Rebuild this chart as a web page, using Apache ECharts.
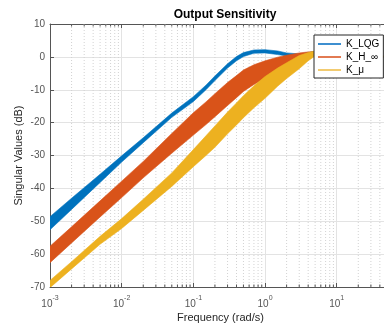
<!DOCTYPE html>
<html><head><meta charset="utf-8">
<script src="https://cdn.jsdelivr.net/npm/echarts@6/dist/echarts.min.js"></script>
<style>html,body{margin:0;padding:0;background:#fff}#c{width:384px;height:331px}</style>
</head><body><div id="c"></div>
<script>
// Frequencies (rad/s) at which the envelopes were read
const freqs     = [0.001,0.002,0.005,0.01,0.02,0.05,0.1,0.15,0.2,0.3,0.4,0.5,0.7,1,1.5,2,3,4,5,10,20,45.7];
// K_LQG singular-value band (dB)
const lqgUpper  = [-48.6,-43.0,-35.7,-30.1,-24.6,-17.1,-12.1,-8.6,-5.8,-2.1,0.1,1.3,2.1,2.2,1.8,1.2,0.9,1.3,1.7,1.2,0.4,0.1];
const lqgLower  = [-52.6,-46.4,-38.2,-32.0,-26.1,-18.4,-13.6,-10.0,-7.2,-3.4,-1.2,0.1,1.1,1.2,0.7,0.3,0.1,0.6,1.2,0.8,0.2,0.0];
// K_H_inf band (dB)
const hinfUpper = [-57.6,-51.7,-43.8,-37.8,-31.8,-23.3,-17.0,-13.7,-11.2,-7.8,-5.7,-4.0,-2.4,-1.2,-0.1,0.5,1.2,1.5,1.6,1.5,0.6,0.2];
const hinfLower = [-62.6,-56.6,-48.7,-42.8,-36.8,-29.3,-23.8,-20.6,-18.2,-14.8,-12.4,-10.5,-8.4,-6.5,-3.5,-2.0,-0.5,0.4,1.0,1.0,0.3,0.0];
// K_mu band (dB)
const muUpper   = [-68.0,-62.3,-54.6,-49.2,-43.3,-35.3,-28.2,-24.0,-21.0,-16.8,-14.0,-11.8,-8.8,-6.0,-3.4,-1.8,0.4,1.3,1.8,1.5,0.6,0.2];
const muLower   = [-70.2,-64.5,-57.0,-52.2,-46.7,-39.4,-33.4,-30.0,-27.5,-23.4,-20.7,-18.5,-15.5,-12.6,-8.9,-6.6,-3.6,-1.2,0.3,1.0,0.3,0.0];
// Axis
const xMin = 0.001, xMax = 45.7;
const yMin = -70, yMax = 10, yStep = 10;
const xTickExps = [-3,-2,-1,0,1];
const minorFreqs = [];
for (let k = -3; k <= 1; k++) for (let m = 2; m <= 9; m++) { const v = m * Math.pow(10, k); if (v < xMax) minorFreqs.push(+v.toPrecision(3)); }
const names = ['K_LQG', 'K_H_∞', 'K_μ'];
const colors = ['#0072BD', '#D95319', '#EDB120'];
const legendColors = ['#3d8fd0', '#e27a52', '#f2cb70'];

const FONT = "'Liberation Sans', Arial, Helvetica, sans-serif";
function bandData(f, u, l) { return f.map((v, i) => [v, u[i], l[i]]); }
function bandRenderer(color) {
  return function (params, api) {
    if (params.dataIndexInside !== 0) return null;
    const n = params.dataInsideLength;
    const up = [], lo = [];
    for (let j = 0; j < n; j++) {
      up.push(api.coord([api.value(0, j), api.value(1, j)]));
      lo.push(api.coord([api.value(0, j), api.value(2, j)]));
    }
    return { type: 'polygon', shape: { points: up.concat(lo.reverse()) },
      style: { fill: color, stroke: color, lineWidth: 0.6 } };
  };
}
function minorRender(params, api) {
  const v = api.value(0);
  const t = api.coord([v, yMax]), b = api.coord([v, yMin]);
  return { type: 'group', children: [
    { type: 'line', shape: { x1: t[0], y1: t[1], x2: b[0], y2: b[1] },
      style: { stroke: '#d2d2d2', lineWidth: 1, lineDash: [1, 2] } },
    { type: 'line', shape: { x1: b[0], y1: b[1], x2: b[0], y2: b[1] - 2.5 },
      style: { stroke: '#555', lineWidth: 1 } },
    { type: 'line', shape: { x1: t[0], y1: t[1], x2: t[0], y2: t[1] + 2.5 },
      style: { stroke: '#555', lineWidth: 1 } }
  ] };
}
function xLabel(v) {
  const e = Math.log10(v), r = Math.round(e);
  if (Math.abs(e - r) > 1e-6 || xTickExps.indexOf(r) < 0) return '';
  return '{b|10}{s|' + r + '}';
}
const chart = echarts.init(document.getElementById('c'), null, { renderer: 'canvas' });
chart.setOption({
  animation: false,
  backgroundColor: '#fff',
  textStyle: { fontFamily: FONT },
  title: { text: 'Output Sensitivity', left: 220, top: 4, textAlign: 'center',
    textStyle: { fontFamily: FONT, fontSize: 12, fontWeight: 'bold', color: '#000' } },
  grid: { left: 50, top: 24, right: 0, bottom: 44, containLabel: false },
  legend: {
    orient: 'vertical', left: 314, top: 35, padding: [3, 4, 2, 4], itemGap: 1, z: 20,
    backgroundColor: '#fff', borderColor: '#262626', borderWidth: 1, borderRadius: 0,
    itemWidth: 23, itemHeight: 2, icon: 'rect',
    textStyle: { fontFamily: FONT, fontSize: 10, color: '#000', lineHeight: 12 },
    data: names.map((n, i) => ({ name: n, itemStyle: { color: legendColors[i] } }))
  },
  xAxis: [{
    type: 'log', logBase: 10, min: xMin, max: xMax, interval: 1,
    name: 'Frequency (rad/s)', nameLocation: 'middle', nameGap: 25, nameMoveOverlap: false,
    nameTextStyle: { fontFamily: FONT, fontSize: 11, color: '#262626', padding: [0, 0, 0, 7] },
    axisLine: { show: true, onZero: false, lineStyle: { color: '#555', width: 1 } },
    axisTick: { show: true, inside: true, length: 4, lineStyle: { color: '#555' } },
    splitLine: { show: true, lineStyle: { color: '#e3e3e3', width: 1 } },
    axisLabel: { show: true, margin: 8, showMaxLabel: false, formatter: xLabel,
      rich: { b: { fontFamily: FONT, fontSize: 10, color: '#555', lineHeight: 14, verticalAlign: 'bottom' },
              s: { fontFamily: FONT, fontSize: 7, color: '#555', lineHeight: 14, verticalAlign: 'top' } } }
  }, {
    type: 'log', logBase: 10, min: xMin, max: xMax, interval: 1, position: 'top',
    axisLine: { show: true, onZero: false, lineStyle: { color: '#555', width: 1 } },
    axisTick: { show: true, inside: true, length: 4, lineStyle: { color: '#555' } },
    axisLabel: { show: false }, splitLine: { show: false }
  }],
  yAxis: {
    type: 'value', min: yMin, max: yMax, interval: yStep,
    name: 'Singular Values (dB)', nameLocation: 'middle', nameGap: 26, nameRotate: 90, nameMoveOverlap: false,
    nameTextStyle: { fontFamily: FONT, fontSize: 11, color: '#262626' },
    axisLine: { show: true, onZero: false, lineStyle: { color: '#555', width: 1 } },
    axisTick: { show: true, inside: true, length: 4, lineStyle: { color: '#555' } },
    splitLine: { show: true, lineStyle: { color: '#e3e3e3', width: 1 } },
    axisLabel: { margin: 5, fontFamily: FONT, fontSize: 10, color: '#555' }
  },
  series: [
    { type: 'custom', name: 'minor', silent: true, renderItem: minorRender, clip: false, z: 1,
      data: minorFreqs.map(v => [v]), encode: { x: 0 } },
    { type: 'custom', name: names[0], renderItem: bandRenderer(colors[0]), clip: true, z: 2,
      data: bandData(freqs, lqgUpper, lqgLower), encode: { x: 0, y: [1, 2] }, itemStyle: { color: colors[0] } },
    { type: 'custom', name: names[1], renderItem: bandRenderer(colors[1]), clip: true, z: 2,
      data: bandData(freqs, hinfUpper, hinfLower), encode: { x: 0, y: [1, 2] }, itemStyle: { color: colors[1] } },
    { type: 'custom', name: names[2], renderItem: bandRenderer(colors[2]), clip: true, z: 2,
      data: bandData(freqs, muUpper, muLower), encode: { x: 0, y: [1, 2] }, itemStyle: { color: colors[2] } }
  ]
});
</script></body></html>
